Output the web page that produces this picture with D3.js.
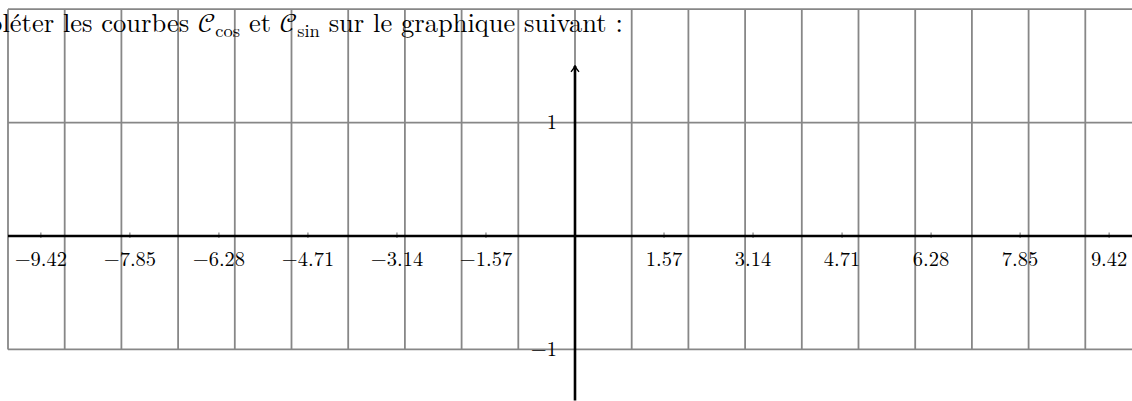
<!DOCTYPE html>
<html>
<head>
<meta charset="utf-8">
<script src="https://cdn.jsdelivr.net/npm/d3@7"></script>
<style>
  html, body { margin: 0; padding: 0; background: #fff; overflow: hidden; }
  svg { display: block; }
  text { font-family: "Latin Modern Roman", "Liberation Serif", serif; fill: #000; }
  .cal { font-family: "Latin Modern Math", "STIX Two Math", "DejaVu Sans", serif; }
</style>
</head>
<body>
<div id="chart"></div>
<script>
// chart data
var xTicks = [-9.42, -7.85, -6.28, -4.71, -3.14, -1.57, 1.57, 3.14, 4.71, 6.28, 7.85, 9.42];
var yTicks = [-1, 1];
var gridX = d3.range(-10, 10);   // vertical grid lines, one per unit
var gridY = [-1, 0, 1, 2];       // horizontal grid lines

var width = 1132;
var height = 401;

// scales: origin at (575, 236), 56.7 px per unit in x, 113.4 px per unit in y
var x = d3.scaleLinear().domain([0, 1]).range([575, 575 + 56.7]);
var y = d3.scaleLinear().domain([0, 1]).range([236, 236 - 113.4]);

var svg = d3.select("#chart")
            .append("svg")
            .attr("width", width)
            .attr("height", height);

// grey grid
var grid = svg.append("g")
              .attr("stroke", "#878787")
              .attr("stroke-width", 1.8);

grid.selectAll("line.v")
    .data(gridX)
    .enter()
    .append("line")
    .attr("class", "v")
    .attr("x1", function(d) { return x(d); })
    .attr("x2", function(d) { return x(d); })
    .attr("y1", y(2))
    .attr("y2", y(-1));

grid.selectAll("line.h")
    .data(gridY)
    .enter()
    .append("line")
    .attr("class", "h")
    .attr("x1", x(-10))
    .attr("x2", width + 5)
    .attr("y1", function(d) { return y(d); })
    .attr("y2", function(d) { return y(d); });

// arrow head
svg.append("defs").append("marker")
   .attr("id", "arrow")
   .attr("viewBox", "-6 -5 8 10")
   .attr("refX", 1)
   .attr("refY", 0)
   .attr("markerWidth", 8)
   .attr("markerHeight", 10)
   .attr("markerUnits", "userSpaceOnUse")
   .attr("orient", "auto")
   .append("path")
   .attr("d", "M-5,-4 Q-1,-0.6 1.5,0 Q-1,0.6 -5,4")
   .attr("fill", "none")
   .attr("stroke", "#000")
   .attr("stroke-width", 1.4);

// axes
svg.append("line")
   .attr("x1", x(-10))
   .attr("x2", x(9.97))
   .attr("y1", y(0))
   .attr("y2", y(0))
   .attr("stroke", "#000")
   .attr("stroke-width", 2.6)
   .attr("marker-end", "url(#arrow)");

svg.append("line")
   .attr("x1", x(0))
   .attr("x2", x(0))
   .attr("y1", y(-1.45))
   .attr("y2", y(1.5))
   .attr("stroke", "#000")
   .attr("stroke-width", 2.6)
   .attr("marker-end", "url(#arrow)");

// x tick marks and labels
svg.append("g").selectAll("line")
   .data(xTicks)
   .enter()
   .append("line")
   .attr("x1", function(d) { return x(d); })
   .attr("x2", function(d) { return x(d); })
   .attr("y1", y(0) - 3.5)
   .attr("y2", y(0) + 2)
   .attr("stroke", "#000")
   .attr("stroke-width", 0.6);

svg.append("g").selectAll("text")
   .data(xTicks)
   .enter()
   .append("text")
   .attr("x", function(d) { return x(d); })
   .attr("y", y(0) + 29.5)
   .attr("text-anchor", "middle")
   .attr("font-size", 20.5)
   .text(function(d) { return (d < 0 ? "\u2212" : "") + Math.abs(d).toFixed(2); });

// y tick labels
svg.append("g").selectAll("text")
   .data(yTicks)
   .enter()
   .append("text")
   .attr("x", x(0) - 18)
   .attr("y", function(d) { return y(d) + 6.5; })
   .attr("text-anchor", "end")
   .attr("font-size", 20.5)
   .text(function(d) { return (d < 0 ? "\u2212" : "") + Math.abs(d); });

// heading (starts off the left edge, as in the original)
var title = svg.append("text")
               .attr("y", 32)
               .attr("font-size", 26.5);

title.append("tspan").text("Compléter les courbes ");
title.append("tspan").attr("class", "cal").text("\uD835\uDC9E");
title.append("tspan").attr("font-size", 18.5).attr("dy", 4.5).text("cos");
title.append("tspan").attr("dy", -4.5).text(" et ");
title.append("tspan").attr("class", "cal").text("\uD835\uDC9E");
title.append("tspan").attr("font-size", 18.5).attr("dy", 4.5).text("sin");
title.append("tspan").attr("dy", -4.5).text(" sur le graphique suivant :");

var cut = title.node().getSubStringLength(0, 4);
title.attr("x", 2.5 - cut);
</script>
</body>
</html>
